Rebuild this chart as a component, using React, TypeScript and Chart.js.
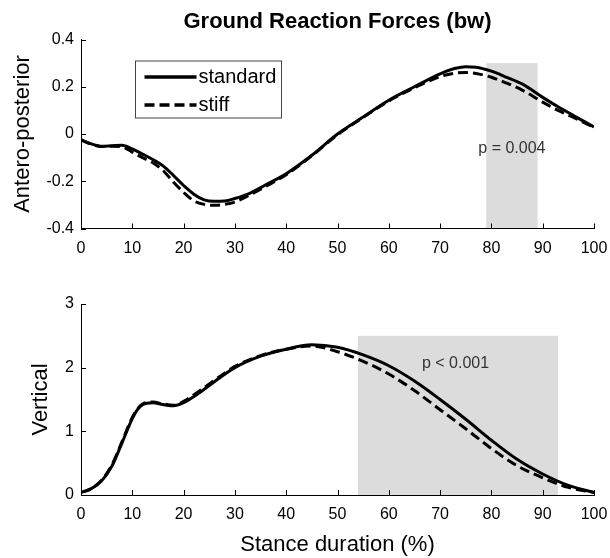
import React, { useEffect, useRef } from "react";
import { Chart, registerables } from "chart.js";

Chart.register(...registerables);

const FONT = '"Liberation Sans", Arial, Helvetica, sans-serif';

// ---------- data ----------
const chartTitle = "Ground Reaction Forces (bw)";
const seriesLabels = ["standard", "stiff"];
const xTicks = [0, 10, 20, 30, 40, 50, 60, 70, 80, 90, 100];
const xTitle = "Stance duration (%)";

// Antero-posterior
const apTitle = "Antero-posterior";
const apX = [0, 2, 4, 6, 8, 10, 12, 14, 16, 18, 20, 22, 24, 26, 28, 30, 33, 36, 40, 45, 50, 55, 60, 65, 70, 73, 75, 77, 80, 83, 86, 90, 93, 96, 100];
const apStandard = [-0.025, -0.042, -0.052, -0.05, -0.048, -0.063, -0.085, -0.108, -0.135, -0.175, -0.218, -0.255, -0.279, -0.285, -0.284, -0.273, -0.25, -0.215, -0.168, -0.09, 0.0, 0.072, 0.143, 0.2, 0.255, 0.278, 0.285, 0.283, 0.266, 0.24, 0.212, 0.155, 0.115, 0.078, 0.03];
const apStiff = [-0.025, -0.043, -0.053, -0.052, -0.054, -0.077, -0.1, -0.122, -0.155, -0.203, -0.247, -0.283, -0.298, -0.302, -0.298, -0.288, -0.257, -0.222, -0.172, -0.092, -0.003, 0.07, 0.14, 0.196, 0.243, 0.258, 0.26, 0.256, 0.24, 0.215, 0.186, 0.135, 0.1, 0.07, 0.028];
const apTicks = [-0.4, -0.2, 0, 0.2, 0.4];
const apShadeX = [79, 89];
const apShadeTop = 0.3;
const apPText = "p = 0.004";
const apPAt = [84, -0.06];

// Vertical
const vTitle = "Vertical";
const vX = [0, 2, 4, 6, 8, 10, 11, 12, 14, 16, 18, 20, 23, 26, 30, 35, 40, 45, 50, 55, 60, 65, 70, 75, 80, 85, 90, 95, 100];
const vStandard = [0.04, 0.1, 0.22, 0.45, 0.82, 1.2, 1.34, 1.42, 1.45, 1.42, 1.4, 1.45, 1.6, 1.78, 2.0, 2.18, 2.29, 2.36, 2.32, 2.2, 2.03, 1.79, 1.5, 1.19, 0.86, 0.56, 0.33, 0.15, 0.04];
const vStiff = [0.04, 0.1, 0.23, 0.47, 0.84, 1.22, 1.35, 1.43, 1.46, 1.43, 1.41, 1.47, 1.63, 1.8, 2.02, 2.19, 2.29, 2.34, 2.25, 2.1, 1.9, 1.64, 1.34, 1.04, 0.73, 0.46, 0.27, 0.12, 0.04];
const vTicks = [0, 1, 2, 3];
const vShadeX = [54, 93];
const vShadeTop = 2.5;
const vPText = "p < 0.001";
const vPAt = [73, 2.07];

// ---------- config ----------
type Panel = {
  xs: number[];
  standard: number[];
  stiff: number[];
  yTicks: number[];
  shadeX: number[];
  shadeTop: number;
  pText: string;
  pAt: number[];
  yTitle: string;
  yTitlePad: number;
  title?: string;
  xTitle?: string;
  padTop: number;
  xAxisHeight: number;
  legend: boolean;
};

function buildConfig(p: Panel): any {
  const annot = {
    id: "annot",
    beforeDraw(chart: any) {
      const { ctx } = chart;
      const xs = chart.scales.x;
      const ys = chart.scales.y;
      const x0 = xs.getPixelForValue(p.shadeX[0]);
      const x1 = xs.getPixelForValue(p.shadeX[1]);
      const yT = ys.getPixelForValue(p.shadeTop);
      const yB = ys.getPixelForValue(ys.min);
      ctx.save();
      ctx.fillStyle = "#dcdcdc";
      ctx.fillRect(x0, yT, x1 - x0, yB - yT);
      ctx.fillStyle = "#333";
      ctx.font = `16px ${FONT}`;
      ctx.textAlign = "center";
      ctx.textBaseline = "middle";
      ctx.fillText(p.pText, xs.getPixelForValue(p.pAt[0]), ys.getPixelForValue(p.pAt[1]));
      ctx.restore();
    },
    afterDraw(chart: any) {
      const { ctx, chartArea } = chart;
      const xs = chart.scales.x;
      const ys = chart.scales.y;
      ctx.save();
      ctx.strokeStyle = "#000";
      ctx.lineWidth = 1;
      ctx.beginPath();
      xs.ticks.forEach((t: any) => {
        const px = Math.round(xs.getPixelForValue(t.value)) + 0.5;
        ctx.moveTo(px, chartArea.bottom);
        ctx.lineTo(px, chartArea.bottom - 5);
      });
      ys.ticks.forEach((t: any) => {
        const py = Math.round(ys.getPixelForValue(t.value)) + 0.5;
        ctx.moveTo(chartArea.left, py);
        ctx.lineTo(chartArea.left + 5, py);
      });
      ctx.stroke();

      if (p.legend) {
        const lx = chartArea.left + 54.5;
        const ly = chartArea.top + 21.5;
        const w = 146;
        const h = 57;
        ctx.fillStyle = "#fff";
        ctx.fillRect(lx, ly, w, h);
        ctx.strokeStyle = "#444";
        ctx.lineWidth = 1;
        ctx.strokeRect(lx, ly, w, h);
        chart.data.datasets.forEach((ds: any, i: number) => {
          const y = ly + 16 + i * 28;
          ctx.beginPath();
          ctx.strokeStyle = "#000";
          ctx.lineWidth = 3.5;
          ctx.setLineDash(ds.borderDash || []);
          ctx.moveTo(lx + 9, y);
          ctx.lineTo(lx + 61, y);
          ctx.stroke();
          ctx.setLineDash([]);
          ctx.fillStyle = "#000";
          ctx.font = `20px ${FONT}`;
          ctx.textAlign = "left";
          ctx.textBaseline = "middle";
          ctx.fillText(ds.label, lx + 63, y);
        });
      }
      ctx.restore();
    },
  };

  const mk = (vals: number[]) => p.xs.map((x, i) => ({ x, y: vals[i] }));

  return {
    type: "line",
    data: {
      datasets: [
        {
          label: seriesLabels[0],
          data: mk(p.standard),
          borderColor: "#000",
          borderWidth: 3,
          pointRadius: 0,
          cubicInterpolationMode: "monotone",
          fill: false,
        },
        {
          label: seriesLabels[1],
          data: mk(p.stiff),
          borderColor: "#000",
          borderWidth: 3,
          borderDash: [10, 5],
          pointRadius: 0,
          cubicInterpolationMode: "monotone",
          fill: false,
        },
      ],
    },
    options: {
      animation: false,
      responsive: false,
      maintainAspectRatio: false,
      devicePixelRatio: 1,
      layout: { padding: { top: p.padTop, right: 16, left: 0, bottom: 0 } },
      scales: {
        x: {
          type: "linear",
          min: 0,
          max: 100,
          afterBuildTicks: (s: any) => {
            s.ticks = xTicks.map((v) => ({ value: v }));
          },
          afterFit: (s: any) => {
            s.height = p.xAxisHeight;
            s.paddingRight = 0;
            s.paddingLeft = 0;
          },
          ticks: {
            autoSkip: false,
            maxRotation: 0,
            padding: 10,
            color: "#000",
            font: { family: FONT, size: 16 },
            callback: (v: any) => String(v),
          },
          grid: { display: false, drawTicks: false },
          border: { display: true, color: "#000", width: 1 },
          title: p.xTitle
            ? {
                display: true,
                text: p.xTitle,
                color: "#000",
                font: { family: FONT, size: 22 },
                padding: { top: 0, bottom: 0 },
              }
            : { display: false },
        },
        y: {
          type: "linear",
          min: p.yTicks[0],
          max: p.yTicks[p.yTicks.length - 1],
          afterBuildTicks: (s: any) => {
            s.ticks = p.yTicks.map((v) => ({ value: v }));
          },
          afterFit: (s: any) => {
            s.width = 81;
          },
          ticks: {
            autoSkip: false,
            padding: 7,
            color: "#000",
            font: { family: FONT, size: 16 },
            callback: (v: any) => String(v),
          },
          grid: { display: false, drawTicks: false },
          border: { display: true, color: "#000", width: 1 },
          title: {
            display: true,
            text: p.yTitle,
            color: "#000",
            font: { family: FONT, size: 22 },
            padding: { top: p.yTitlePad, bottom: 0 },
          },
        },
      },
      plugins: {
        legend: { display: false },
        tooltip: { enabled: false },
        title: p.title
          ? {
              display: true,
              text: p.title,
              fullSize: false,
              color: "#000",
              font: { family: FONT, size: 22, weight: "bold" },
              padding: { top: 8.5, bottom: 4.6 },
            }
          : { display: false },
      },
    },
    plugins: [annot],
  };
}

export default function App() {
  const topRef = useRef<HTMLCanvasElement>(null);
  const botRef = useRef<HTMLCanvasElement>(null);

  useEffect(() => {
    const c1 = new Chart(
      topRef.current as HTMLCanvasElement,
      buildConfig({
        xs: apX,
        standard: apStandard,
        stiff: apStiff,
        yTicks: apTicks,
        shadeX: apShadeX,
        shadeTop: apShadeTop,
        pText: apPText,
        pAt: apPAt,
        yTitle: apTitle,
        yTitlePad: 10,
        title: chartTitle,
        padTop: 0,
        xAxisHeight: 31.5,
        legend: true,
      })
    );
    const c2 = new Chart(
      botRef.current as HTMLCanvasElement,
      buildConfig({
        xs: vX,
        standard: vStandard,
        stiff: vStiff,
        yTicks: vTicks,
        shadeX: vShadeX,
        shadeTop: vShadeTop,
        pText: vPText,
        pAt: vPAt,
        yTitle: vTitle,
        yTitlePad: 28,
        xTitle: xTitle,
        padTop: 44,
        xAxisHeight: 63,
        legend: false,
      })
    );
    return () => {
      c1.destroy();
      c2.destroy();
    };
  }, []);

  return (
    <div style={{ position: "fixed", left: 0, top: 0, width: 610, height: 558, background: "#fff" }}>
      <canvas
        ref={topRef}
        width={610}
        height={260}
        style={{ position: "absolute", left: 0, top: 0, width: 610, height: 260, display: "block" }}
      />
      <canvas
        ref={botRef}
        width={610}
        height={298}
        style={{ position: "absolute", left: 0, top: 260, width: 610, height: 298, display: "block" }}
      />
    </div>
  );
}
